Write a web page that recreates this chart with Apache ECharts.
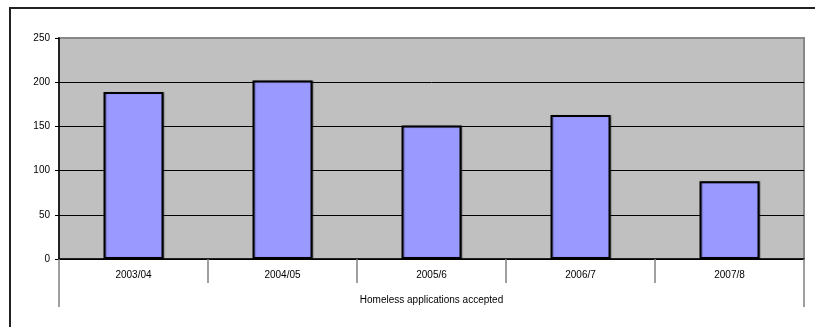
<!DOCTYPE html>
<html>
<head>
<meta charset="utf-8">
<script src="https://cdn.jsdelivr.net/npm/echarts@6/dist/echarts.min.js"></script>
<style>
html,body{margin:0;padding:0;background:#fff;}
#chart{width:815px;height:327px;}
</style>
</head>
<body>
<div id="chart"></div>
<script>
const categories = ['2003/04', '2004/05', '2005/6', '2006/7', '2007/8'];
const groupLabel = ['Homeless applications accepted'];
const values = [189, 202, 151, 163, 88];
const yTicks = { min: 0, max: 250, interval: 50 };

const chart = echarts.init(document.getElementById('chart'), null, { renderer: 'canvas' });
const font = 'Liberation Sans, Arial, sans-serif';
chart.setOption({
  animation: false,
  backgroundColor: '#ffffff',
  graphic: [{
    type: 'rect',
    shape: { x: 10, y: 8, width: 830, height: 340 },
    style: { fill: null, stroke: '#222', lineWidth: 2 },
    z: 100, silent: true
  }],
  grid: {
    left: 59, right: 11, top: 38, bottom: 68,
    show: true, backgroundColor: '#C0C0C0', borderColor: '#888888', borderWidth: 2
  },
  xAxis: [{
    type: 'category',
    data: categories,
    boundaryGap: true,
    axisLine: { lineStyle: { color: '#000', width: 1.5 } },
    axisTick: { show: true, length: 24, alignWithLabel: false, interval: 0, lineStyle: { color: '#808080', width: 1.5 } },
    axisLabel: { color: '#000', fontSize: 10, fontFamily: font, margin: 11, interval: 0 },
    splitLine: { show: false }
  }, {
    type: 'category',
    data: groupLabel,
    position: 'bottom',
    boundaryGap: true,
    axisLine: { show: false },
    axisTick: { show: true, length: 48, lineStyle: { color: '#808080', width: 1.5 } },
    axisLabel: { color: '#000', fontSize: 10, fontFamily: font, margin: 36 },
    splitLine: { show: false }
  }],
  yAxis: {
    type: 'value',
    min: yTicks.min, max: yTicks.max, interval: yTicks.interval,
    axisLine: { show: true, lineStyle: { color: '#000', width: 1.5 } },
    axisTick: { show: true, length: 4, lineStyle: { color: '#000' } },
    axisLabel: { color: '#000', fontSize: 10, fontFamily: font, margin: 9 },
    splitLine: { show: true, showMaxLine: false, lineStyle: { color: '#000', width: 1 } }
  },
  series: [{
    type: 'bar',
    xAxisIndex: 0,
    data: values,
    barWidth: 60,
    itemStyle: {
      color: '#9999FF', borderColor: '#000', borderWidth: 2,
      shadowColor: 'rgba(0,0,0,0.35)', shadowOffsetX: 1, shadowOffsetY: 0, shadowBlur: 1
    }
  }]
});
</script>
</body>
</html>
